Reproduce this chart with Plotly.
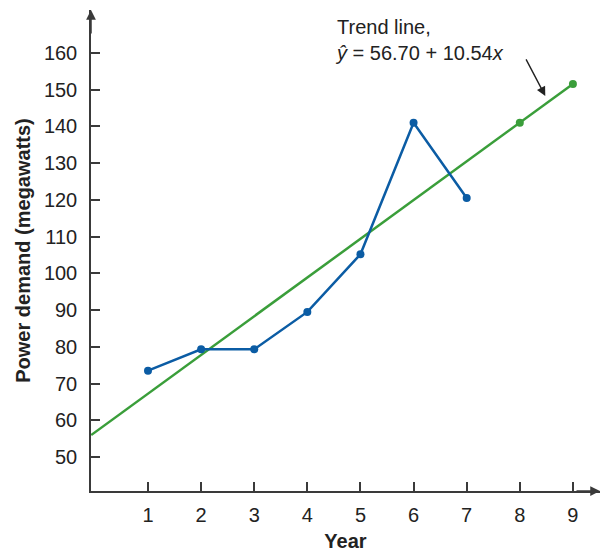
import plotly.graph_objects as go

years = [1, 2, 3, 4, 5, 6, 7]
demand = [73.5, 79.3, 79.3, 89.5, 105.2, 141.0, 120.5]
trend_x = [-0.07, 9]
intercept = 56.70
slope = 10.54
forecast_years = [8, 9]
y_ticks = [50, 60, 70, 80, 90, 100, 110, 120, 130, 140, 150, 160]
x_ticks = [1, 2, 3, 4, 5, 6, 7, 8, 9]

trend_y = [intercept + slope * x for x in trend_x]
forecast_y = [intercept + slope * x for x in forecast_years]

BLUE = "#0B5CA4"
GREEN = "#3A9E3A"
AX = "#3a3a3a"
TXT = "#222"
FONT = "Liberation Sans, Arial, sans-serif"

fig = go.Figure()
fig.add_trace(go.Scatter(x=trend_x, y=trend_y, mode="lines",
                         line=dict(color=GREEN, width=2.5), hoverinfo="skip"))
fig.add_trace(go.Scatter(x=forecast_years, y=forecast_y, mode="markers",
                         marker=dict(color=GREEN, size=8)))
fig.add_trace(go.Scatter(x=years, y=demand, mode="lines+markers",
                         line=dict(color=BLUE, width=2.5),
                         marker=dict(color=BLUE, size=8)))

fig.update_layout(
    width=602, height=552,
    margin=dict(l=91, r=2, t=10, b=61, autoexpand=False),
    paper_bgcolor="white", plot_bgcolor="white",
    showlegend=False,
    font=dict(family=FONT, size=20, color=TXT),
    xaxis=dict(range=[-0.073, 9.51], tickvals=x_ticks, ticks="inside",
               ticklen=9, tickwidth=1.5, tickcolor=AX,
               showline=True, linecolor=AX, linewidth=1.5,
               showgrid=False, zeroline=False, ticklabelstandoff=5,
               tickfont=dict(size=20, color=TXT),
               title=dict(text="<b>Year</b>", font=dict(size=20, color=TXT),
                          standoff=10)),
    yaxis=dict(range=[40.74, 171.7], tickvals=y_ticks, ticks="inside",
               ticklen=9, tickwidth=1.5, tickcolor=AX,
               showline=True, linecolor=AX, linewidth=1.5,
               showgrid=False, zeroline=False, ticklabelstandoff=8,
               tickfont=dict(size=20, color=TXT),
               title=dict(text="<b>Power demand (megawatts)</b>",
                          font=dict(size=20, color=TXT), standoff=8)),
)

# axis arrowheads
fig.add_annotation(xref="paper", yref="paper", x=0, y=1, ax=0, ay=25,
                   showarrow=True, arrowhead=2, arrowsize=1.3, arrowwidth=1.5,
                   arrowcolor=AX, text="")
fig.add_annotation(xref="paper", yref="paper", x=1, y=0, ax=-25, ay=0,
                   showarrow=True, arrowhead=2, arrowsize=1.3, arrowwidth=1.5,
                   arrowcolor=AX, text="")

# trend label
fig.add_annotation(x=4.49, y=170.6, xanchor="left", yanchor="top", align="left",
                   showarrow=False,
                   text="Trend line,<br><i>ŷ</i> = 56.70 + 10.54<i>x</i>",
                   font=dict(size=20, color=TXT))
fig.add_annotation(x=8.48, y=148.3, ax=-20, ay=-38, showarrow=True,
                   arrowhead=2, arrowsize=1.3, arrowwidth=1.4, arrowcolor=TXT,
                   text="")

fig.write_html("out.html", config={"displayModeBar": False},
               post_script="document.body.style.margin='0';")
